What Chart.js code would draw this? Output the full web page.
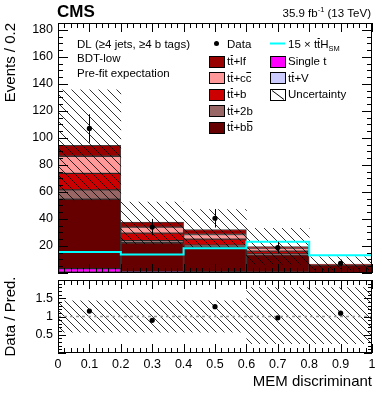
<!DOCTYPE html>
<html>
<head>
<meta charset="utf-8">
<script src="https://cdn.jsdelivr.net/npm/chart.js@4.4.0/dist/chart.umd.min.js"></script>
<style>
    html, body { margin: 0; padding: 0; background: #fff; }
    #wrap { position: relative; width: 382px; height: 394px; overflow: hidden; }
    #main { position: absolute; left: 0; top: 0; }
    #ratio { position: absolute; left: 0; top: 276px; }
</style>
</head>
<body>
<div id="wrap">
    <canvas id="main" width="382" height="277"></canvas>
    <canvas id="ratio" width="382" height="118"></canvas>
</div>
<script>
const FONT = '"Liberation Sans", Arial, Helvetica, sans-serif';

// bins of the MEM discriminant
const binCenters = [0.1, 0.3, 0.5, 0.7, 0.9];
const binEdges = [0, 0.2, 0.4, 0.6, 0.8, 1.0];

// stacked backgrounds, bottom to top
const ttV     = [0.6, 0.3, 0.3, 0.2, 0.1];
const singleT = [2.6, 0.6, 0.5, 0.4, 0.2];
const ttbb    = [51.5, 21.5, 18.5, 12.8, 5.5];
const tt2b    = [6.8, 1.6, 1.3, 0.8, 0.2];
const ttb     = [12.2, 5.5, 4.5, 2.0, 0.2];
const ttcc    = [12.7, 4.5, 3.4, 2.3, 0.2];
const ttlf    = [8.0, 3.6, 3.7, 1.0, 0.2];

// 15 x ttH signal
const ttH15 = [15.6, 13.6, 18.3, 23.1, 13.1];

// data
const dataY   = [107, 34, 40.5, 18.8, 7.2];
const dataErr = [10.5, 6.0, 6.8, 4.3, 2.7];

// total uncertainty band (events)
const uncLow  = [54, 21.5, 18.5, 6.5, 2.2];
const uncHigh = [135.5, 52.5, 47, 33, 12];

// ratio panel
const ratioY    = [1.15, 0.895, 1.27, 0.965, 1.09];
const ratioLow  = [0.56, 0.56, 0.56, 0.25, 0.25];
const ratioHigh = [1.44, 1.44, 1.44, 1.8, 1.8];

const mainYTicks = [20, 40, 60, 80, 100, 120, 140, 160, 180];
const ratioYTicks = [0.5, 1, 1.5];
const ratioXTicks = [0, 0.1, 0.2, 0.3, 0.4, 0.5, 0.6, 0.7, 0.8, 0.9, 1];

Chart.defaults.font.family = FONT;
Chart.defaults.color = '#000';

function makeHatch(step, color) {
    const c = document.createElement('canvas');
    c.width = step;
    c.height = step;
    const g = c.getContext('2d');
    g.strokeStyle = color;
    g.lineWidth = 1;
    g.beginPath();
    g.moveTo(-1, -1); g.lineTo(step + 1, step + 1);
    g.moveTo(-1, step - 1); g.lineTo(1, step + 1);
    g.moveTo(step - 1, -1); g.lineTo(step + 1, 1);
    g.stroke();
    return g.createPattern(c, 'repeat');
}

function binPoints(values) {
    return binCenters.map((x, i) => ({ x: x, y: values[i] }));
}

// step line through the bin edges, last value repeated
function edgePoints(values) {
    return binEdges.map((x, i) => ({ x: x, y: values[Math.min(i, values.length - 1)] }));
}

function stackSet(label, values, color) {
    return {
        type: 'bar',
        label: label,
        data: binPoints(values),
        backgroundColor: color,
        borderColor: 'rgba(0,0,0,0.75)',
        borderWidth: 1,
        borderSkipped: false,
        barPercentage: 1,
        categoryPercentage: 1,
        stack: 'bkg',
        order: 3
    };
}

// fixed axis box, no extra room for the end labels
function fixWidth(w) {
    return s => { s.width = w; s.paddingTop = 0; s.paddingBottom = 0; };
}

// ROOT style frame with inward ticks on all sides
const rootFrame = {
    id: 'rootFrame',
    afterDraw(chart, args, o) {
        const { ctx, chartArea: a } = chart;
        const xs = chart.scales.x, ys = chart.scales.y;
        ctx.save();
        ctx.strokeStyle = '#000';
        ctx.lineWidth = 1;
        ctx.beginPath();
        const nx = Math.round((xs.max - xs.min) / o.xMinor);
        for (let i = 0; i <= nx; i++) {
            const v = xs.min + i * o.xMinor;
            const len = (i % o.xEvery === 0) ? o.xMajorLen : o.xMinorLen;
            const px = Math.round(xs.getPixelForValue(v)) + 0.5;
            ctx.moveTo(px, a.bottom); ctx.lineTo(px, a.bottom - len);
            ctx.moveTo(px, a.top); ctx.lineTo(px, a.top + len);
        }
        const ny = Math.floor((ys.max - ys.min) / o.yMinor + 1e-6);
        for (let i = 0; i <= ny; i++) {
            const v = ys.min + i * o.yMinor;
            const len = (i % o.yEvery === 0) ? o.yMajorLen : o.yMinorLen;
            const py = Math.round(ys.getPixelForValue(v)) + 0.5;
            ctx.moveTo(a.left, py); ctx.lineTo(a.left + len, py);
            ctx.moveTo(a.right, py); ctx.lineTo(a.right - len, py);
        }
        ctx.stroke();
        ctx.strokeRect(Math.round(a.left) + 0.5, Math.round(a.top) + 0.5,
            Math.round(a.right - a.left) - 1, Math.round(a.bottom - a.top) - 1);
        ctx.restore();
    }
};

// vertical error bars on the data points
const errorBars = {
    id: 'errorBars',
    afterDatasetsDraw(chart) {
        const { ctx } = chart;
        const ys = chart.scales.y;
        chart.data.datasets.forEach((ds, di) => {
            if (!ds.errors) return;
            const meta = chart.getDatasetMeta(di);
            ctx.save();
            ctx.strokeStyle = '#000';
            ctx.lineWidth = 1;
            meta.data.forEach((pt, i) => {
                const v = ds.data[i].y, e = ds.errors[i];
                const px = Math.round(pt.x) + 0.5;
                ctx.beginPath();
                ctx.moveTo(px, ys.getPixelForValue(v - e));
                ctx.lineTo(px, ys.getPixelForValue(v + e));
                ctx.stroke();
            });
            ctx.restore();
        });
    }
};

function fontFor(style, size) {
    const s = (style === 'sub' || style === 'sup') ? size * 0.65 : size;
    return s + 'px ' + FONT;
}

// text in pieces: [text, style] with style '', 'bar', 'sub' or 'sup'
function drawRich(ctx, x, y, parts, size, align) {
    const widths = parts.map(([t, s]) => {
        ctx.font = fontFor(s, size);
        return ctx.measureText(t).width;
    });
    const total = widths.reduce((a, b) => a + b, 0);
    let cx = align === 'right' ? x - total : x;
    ctx.textAlign = 'left';
    ctx.textBaseline = 'alphabetic';
    parts.forEach(([t, s], i) => {
        ctx.font = fontFor(s, size);
        let dy = 0;
        if (s === 'sub') dy = size * 0.3;
        if (s === 'sup') dy = -size * 0.4;
        ctx.fillText(t, cx, y + dy);
        if (s === 'bar') {
            const by = Math.round(y - size * 0.86) + 0.5;
            ctx.beginPath();
            ctx.moveTo(cx + 0.5, by);
            ctx.lineTo(cx + widths[i] - 0.5, by);
            ctx.stroke();
        }
        cx += widths[i];
    });
}

const mainHatch = makeHatch(9, 'rgba(0,0,0,0.8)');
const ratioHatch = makeHatch(8, 'rgba(0,0,0,0.8)');

const legendRows = [43.5, 61, 77.5, 94, 110.5, 127];
const leftEntries = [
    { kind: 'dot', parts: [['Data', '']] },
    { kind: 'box', color: '#990000', parts: [['t', ''], ['t', 'bar'], ['+lf', '']] },
    { kind: 'box', color: '#ff9999', parts: [['t', ''], ['t', 'bar'], ['+c', ''], ['c', 'bar']] },
    { kind: 'box', color: '#cc0000', parts: [['t', ''], ['t', 'bar'], ['+b', '']] },
    { kind: 'box', color: '#996666', parts: [['t', ''], ['t', 'bar'], ['+2b', '']] },
    { kind: 'box', color: '#660000', parts: [['t', ''], ['t', 'bar'], ['+b', ''], ['b', 'bar']] }
];
const rightEntries = [
    { kind: 'line', color: '#00ffff', parts: [['15 \u00d7 t', ''], ['t', 'bar'], ['H', ''], ['SM', 'sub']] },
    { kind: 'box', color: '#ff00ff', parts: [['Single t', '']] },
    { kind: 'box', color: '#ccccff', parts: [['t', ''], ['t', 'bar'], ['+V', '']] },
    { kind: 'hatch', parts: [['Uncertainty', '']] }
];

function drawEntry(ctx, e, bx, tx, y) {
    ctx.save();
    ctx.strokeStyle = '#000';
    ctx.lineWidth = 1;
    if (e.kind === 'dot') {
        ctx.fillStyle = '#000';
        ctx.beginPath();
        ctx.arc(bx + 7.5, y, 2.5, 0, Math.PI * 2);
        ctx.fill();
    } else if (e.kind === 'line') {
        ctx.strokeStyle = e.color;
        ctx.lineWidth = 2;
        ctx.beginPath();
        ctx.moveTo(bx, y); ctx.lineTo(bx + 15, y);
        ctx.stroke();
    } else {
        const top = Math.round(y - 5.5) + 0.5;
        ctx.fillStyle = e.kind === 'hatch' ? '#fff' : e.color;
        ctx.fillRect(bx + 0.5, top, 15, 11);
        if (e.kind === 'hatch') {
            ctx.beginPath();
            ctx.moveTo(bx + 2, top + 1); ctx.lineTo(bx + 14, top + 10);
            ctx.stroke();
        }
        ctx.strokeRect(bx + 0.5, top, 15, 11);
    }
    ctx.restore();
    ctx.fillStyle = '#000';
    ctx.strokeStyle = '#000';
    ctx.lineWidth = 1;
    drawRich(ctx, tx, y + 4.2, e.parts, 11.5);
}

const mainText = {
    id: 'mainText',
    afterDraw(chart) {
        const { ctx } = chart;
        ctx.save();
        ctx.fillStyle = '#000';
        ctx.strokeStyle = '#000';
        ctx.textBaseline = 'alphabetic';
        ctx.font = 'bold 17px ' + FONT;
        ctx.fillText('CMS', 57, 17);
        drawRich(ctx, 371, 17, [['35.9 fb', ''], ['-1', 'sup'], [' (13 TeV)', '']], 11.5, 'right');

        ctx.font = '11.5px ' + FONT;
        ctx.fillText('DL (\u22654 jets, \u22654 b tags)', 77, 47.5);
        ctx.fillText('BDT-low', 77, 62);
        ctx.fillText('Pre-fit expectation', 77, 76.5);

        leftEntries.forEach((e, i) => drawEntry(ctx, e, 209, 227, legendRows[i]));
        rightEntries.forEach((e, i) => drawEntry(ctx, e, 270, 288, legendRows[i]));
        ctx.restore();
    }
};

const mainChart = new Chart(document.getElementById('main'), {
    data: {
        datasets: [
            {
                type: 'scatter',
                label: 'Data',
                data: binPoints(dataY),
                errors: dataErr,
                pointRadius: 2.6,
                backgroundColor: '#000',
                borderWidth: 0,
                stack: 'data',
                order: 0
            },
            {
                type: 'line',
                label: '15 x ttH',
                data: edgePoints(ttH15),
                stepped: true,
                borderColor: '#00ffff',
                borderWidth: 2,
                pointRadius: 0,
                fill: false,
                stack: 'tth',
                order: 1
            },
            {
                type: 'bar',
                label: 'Uncertainty',
                data: binCenters.map((x, i) => ({ x: x, y: [uncLow[i], uncHigh[i]] })),
                backgroundColor: mainHatch,
                borderWidth: 0,
                barPercentage: 1,
                categoryPercentage: 1,
                grouped: false,
                stack: 'unc',
                order: 2
            },
            stackSet('tt+V', ttV, '#ccccff'),
            stackSet('Single t', singleT, '#ff00ff'),
            stackSet('tt+bb', ttbb, '#660000'),
            stackSet('tt+2b', tt2b, '#996666'),
            stackSet('tt+b', ttb, '#cc0000'),
            stackSet('tt+cc', ttcc, '#ff9999'),
            stackSet('tt+lf', ttlf, '#990000')
        ]
    },
    options: {
        responsive: false,
        animation: false,
        layout: { padding: { top: 23, right: 10, bottom: 1, left: 0 } },
        plugins: {
            legend: { display: false },
            tooltip: { enabled: false },
            rootFrame: { xMinor: 0.02, xEvery: 5, xMajorLen: 9, xMinorLen: 5,
                         yMinor: 5, yEvery: 4, yMajorLen: 10, yMinorLen: 5 }
        },
        scales: {
            x: {
                type: 'linear', min: 0, max: 1, offset: false, stacked: true, display: false,
                ticks: { stepSize: 0.2 }
            },
            y: {
                type: 'linear', min: 0, max: 185, stacked: true,
                grid: { display: false, drawTicks: false },
                border: { display: false },
                afterBuildTicks: s => { s.ticks = mainYTicks.map(v => ({ value: v })); },
                ticks: {
                    autoSkip: false, padding: 5, color: '#000',
                    font: { size: 12.5 },
                    callback: v => String(v)
                },
                title: {
                    display: true, text: 'Events / 0.2', align: 'end', color: '#000',
                    font: { size: 15 }, padding: { top: 2, bottom: 0 }
                },
                afterFit: fixWidth(58)
            }
        }
    },
    plugins: [rootFrame, errorBars, mainText]
});

const ratioChart = new Chart(document.getElementById('ratio'), {
    data: {
        datasets: [
            {
                type: 'scatter',
                label: 'Data / Pred.',
                data: binPoints(ratioY),
                pointRadius: 2.6,
                backgroundColor: '#000',
                borderWidth: 0,
                order: 0
            },
            {
                type: 'line',
                label: 'one',
                data: [{ x: 0, y: 1 }, { x: 1, y: 1 }],
                borderColor: '#999',
                borderDash: [3, 3],
                borderWidth: 1.5,
                pointRadius: 0,
                fill: false,
                order: 1
            },
            {
                type: 'line',
                label: 'unc high',
                data: edgePoints(ratioHigh),
                stepped: true,
                borderColor: 'transparent',
                pointRadius: 0,
                fill: false,
                order: 2
            },
            {
                type: 'line',
                label: 'unc low',
                data: edgePoints(ratioLow),
                stepped: true,
                borderColor: 'transparent',
                backgroundColor: ratioHatch,
                pointRadius: 0,
                fill: '-1',
                order: 3
            }
        ]
    },
    options: {
        responsive: false,
        animation: false,
        layout: { padding: { top: 1, right: 10, bottom: 0, left: 0 } },
        plugins: {
            legend: { display: false },
            tooltip: { enabled: false },
            rootFrame: { xMinor: 0.02, xEvery: 5, xMajorLen: 9, xMinorLen: 5,
                         yMinor: 0.1, yEvery: 5, yMajorLen: 8, yMinorLen: 4 }
        },
        scales: {
            x: {
                type: 'linear', min: 0, max: 1, offset: false,
                grid: { display: false, drawTicks: false },
                border: { display: false },
                afterBuildTicks: s => { s.ticks = ratioXTicks.map(v => ({ value: v })); },
                ticks: {
                    autoSkip: false, maxRotation: 0, padding: 4, color: '#000',
                    font: { size: 12.5 },
                    callback: v => String(v)
                },
                title: {
                    display: true, text: 'MEM discriminant', align: 'end', color: '#000',
                    font: { size: 15 }, padding: { top: 0, bottom: 3 }
                },
                afterFit: s => { s.height = 41; }
            },
            y: {
                type: 'linear', min: 0, max: 2,
                grid: { display: false, drawTicks: false },
                border: { display: false },
                afterBuildTicks: s => { s.ticks = ratioYTicks.map(v => ({ value: v })); },
                ticks: {
                    autoSkip: false, padding: 5, color: '#000',
                    font: { size: 12.5 },
                    callback: v => String(v)
                },
                title: {
                    display: true, text: 'Data / Pred.', align: 'center', color: '#000',
                    font: { size: 15 }, padding: { top: 2, bottom: 0 }
                },
                afterFit: fixWidth(58)
            }
        }
    },
    plugins: [rootFrame]
});
</script>
</body>
</html>
